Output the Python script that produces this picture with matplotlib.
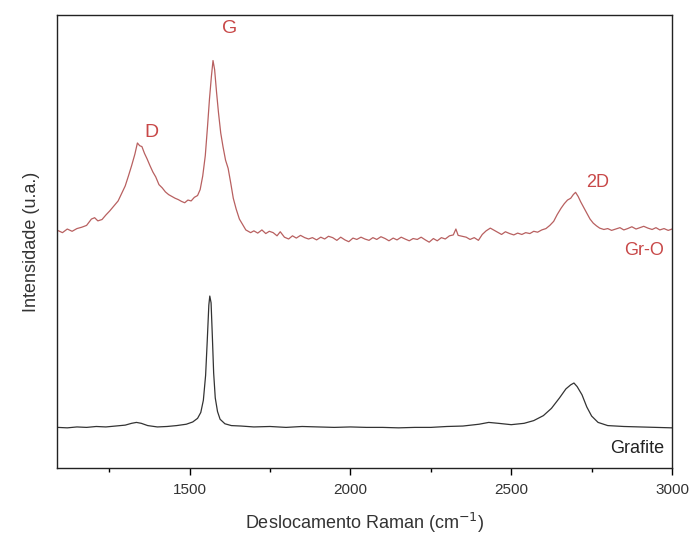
import matplotlib
matplotlib.use('Agg')
import matplotlib.pyplot as plt

plt.rcParams['font.family'] = ['Liberation Sans', 'DejaVu Sans']

# Grafite (preto)
graf_x = [1090, 1120, 1150, 1180, 1210, 1240, 1270, 1300, 1320, 1335, 1350, 1370, 1400, 1430, 1460,
          1490, 1510, 1525, 1535, 1543, 1550, 1555, 1560, 1563, 1567, 1571, 1575, 1580, 1587, 1595,
          1610, 1630, 1660, 1700, 1750, 1800, 1850, 1900, 1950, 2000, 2050, 2100, 2150, 2200, 2250,
          2300, 2350, 2400, 2430, 2460, 2500, 2540, 2570, 2600, 2625, 2650, 2670, 2685, 2695, 2705,
          2720, 2735, 2750, 2770, 2800, 2850, 2900, 2950, 3000]
graf_y = [9.0, 8.9, 9.1, 9.0, 9.2, 9.1, 9.3, 9.5, 9.9, 10.1, 9.9, 9.4, 9.1, 9.2, 9.4,
          9.7, 10.2, 11.0, 12.3, 15.0, 20.5, 28.0, 36.0, 38.0, 36.5, 29.0, 21.0, 15.5, 12.5, 10.8,
          9.8, 9.4, 9.3, 9.1, 9.2, 9.0, 9.2, 9.1, 9.0, 9.1, 9.0, 9.0, 8.9, 9.0, 9.0,
          9.2, 9.3, 9.7, 10.1, 9.9, 9.6, 9.9, 10.5, 11.6, 13.2, 15.5, 17.5, 18.4, 18.8, 18.0,
          16.2, 13.5, 11.5, 10.1, 9.4, 9.2, 9.1, 9.0, 8.9]

# Gr-O (vermelho)
gro_x = [1090, 1105, 1120, 1135, 1150, 1165, 1180, 1195, 1205, 1215, 1228, 1240, 1252, 1265, 1278,
         1290, 1300, 1310, 1320, 1330, 1338, 1345, 1352, 1360, 1368, 1377, 1386, 1395, 1405, 1415,
         1425, 1435, 1445, 1455, 1465, 1475, 1485, 1495, 1505, 1515, 1525, 1533, 1541, 1549, 1556,
         1562, 1568, 1573, 1578, 1584, 1590, 1597, 1604, 1612, 1620, 1628, 1636, 1645, 1655, 1665,
         1675, 1690, 1700, 1712, 1725, 1737, 1748, 1760, 1772, 1782, 1795, 1808, 1820, 1832, 1845,
         1858, 1870, 1882, 1895, 1908, 1920, 1932, 1945, 1958, 1970, 1983, 1995, 2008, 2020, 2033,
         2045, 2058, 2070, 2082, 2095, 2108, 2120, 2133, 2145, 2158, 2170, 2183, 2195, 2208, 2220,
         2233, 2245, 2258, 2270, 2283, 2295, 2308, 2320, 2328, 2335, 2348, 2360, 2372, 2385, 2398,
         2410, 2422, 2435, 2445, 2458, 2470, 2482, 2495, 2508, 2520, 2533, 2545, 2558, 2570, 2582,
         2595, 2608, 2620, 2632, 2643, 2655, 2665, 2675, 2685, 2693, 2700, 2708, 2716, 2725, 2735,
         2745, 2755, 2765, 2775, 2788, 2800, 2812, 2825, 2838, 2850, 2862, 2875, 2888, 2900, 2912,
         2925, 2938, 2950, 2962, 2975, 2988, 3000]
gro_y = [52.5, 52.0, 52.8, 52.3, 52.9, 53.2, 53.6, 55.0, 55.3, 54.6, 54.9, 55.9, 56.8, 57.9, 59.0,
         60.8, 62.3, 64.5, 66.8, 69.3, 71.8, 71.2, 71.0, 69.5, 68.3, 66.8, 65.4, 64.3, 62.6, 61.9,
         61.0, 60.4, 60.0, 59.6, 59.3, 58.9, 58.6, 59.2, 59.0, 59.8, 60.2, 61.5, 64.5, 69.0, 75.5,
         81.5, 86.5, 90.0, 88.0, 83.0, 78.5, 74.0, 71.0, 68.0, 66.2, 63.0, 59.6, 57.2, 55.0, 53.8,
         52.6, 52.0, 52.4, 51.9, 52.6, 51.8, 52.3, 52.0, 51.3, 52.2, 51.0, 50.6, 51.3, 50.8, 51.4,
         50.9, 50.6, 50.9, 50.4, 51.0, 50.6, 51.2, 50.9, 50.3, 51.0, 50.4, 50.0, 50.8, 50.5, 51.0,
         50.6, 50.3, 50.9, 50.5, 51.1, 50.7, 50.2, 50.8, 50.4, 51.0, 50.6, 50.2, 50.7, 50.5, 51.0,
         50.4, 49.9, 50.7, 50.2, 50.9, 50.6, 51.3, 51.5, 52.8, 51.4, 51.2, 51.0, 50.5, 50.9, 50.3,
         51.6, 52.4, 53.0, 52.6, 52.1, 51.6, 52.2, 51.8, 51.5, 51.9, 51.6, 52.0, 51.8, 52.3, 52.1,
         52.6, 52.9, 53.6, 54.5, 56.0, 57.4, 58.4, 59.2, 59.6, 60.4, 60.9, 60.0, 58.8, 57.6, 56.3,
         55.0, 54.1, 53.5, 53.0, 52.7, 52.9, 52.5, 52.8, 53.1, 52.6, 52.9, 53.3, 52.8, 53.1, 53.4,
         53.0, 52.7, 53.1, 52.6, 52.9, 52.5, 52.8]

red = '#c84848'
fig = plt.figure(figsize=(6.95, 5.45), dpi=100)
ax = fig.add_axes([0.082, 0.141, 0.885, 0.831])

ax.plot(gro_x, gro_y, color='#b86060', linewidth=0.9)
ax.plot(graf_x, graf_y, color='#333333', linewidth=0.9)

ax.set_xlim(1088, 3000)
ax.set_ylim(0, 100)
ax.set_xticks([1500, 2000, 2500, 3000])
ax.set_xticks([1250, 1750, 2250, 2750], minor=True)
ax.set_yticks([])
ax.tick_params(axis='x', which='major', direction='out', length=5, width=1, labelsize=11,
               labelcolor='#333333', pad=6)
ax.tick_params(axis='x', which='minor', direction='out', length=3, width=1)
for s in ax.spines.values():
    s.set_linewidth(1.0)
    s.set_color('#222222')

ax.set_xlabel('Deslocamento Raman (cm$^{-1}$)', fontsize=13, color='#333333', labelpad=10)
ax.set_ylabel('Intensidade (u.a.)', fontsize=13, color='#333333', labelpad=12)

# rótulos dos picos
ax.text(1625, 97, 'G', color=red, fontsize=14, ha='center', va='center')
ax.text(1382, 74.2, 'D', color=red, fontsize=14, ha='center', va='center')
ax.text(2770, 63, '2D', color=red, fontsize=13, ha='center', va='center')
ax.text(2975, 48, 'Gr-O', color=red, fontsize=13, ha='right', va='center')
ax.text(2975, 4.4, 'Grafite', color='#222222', fontsize=13, ha='right', va='center')

plt.savefig('out.png', dpi=100)
